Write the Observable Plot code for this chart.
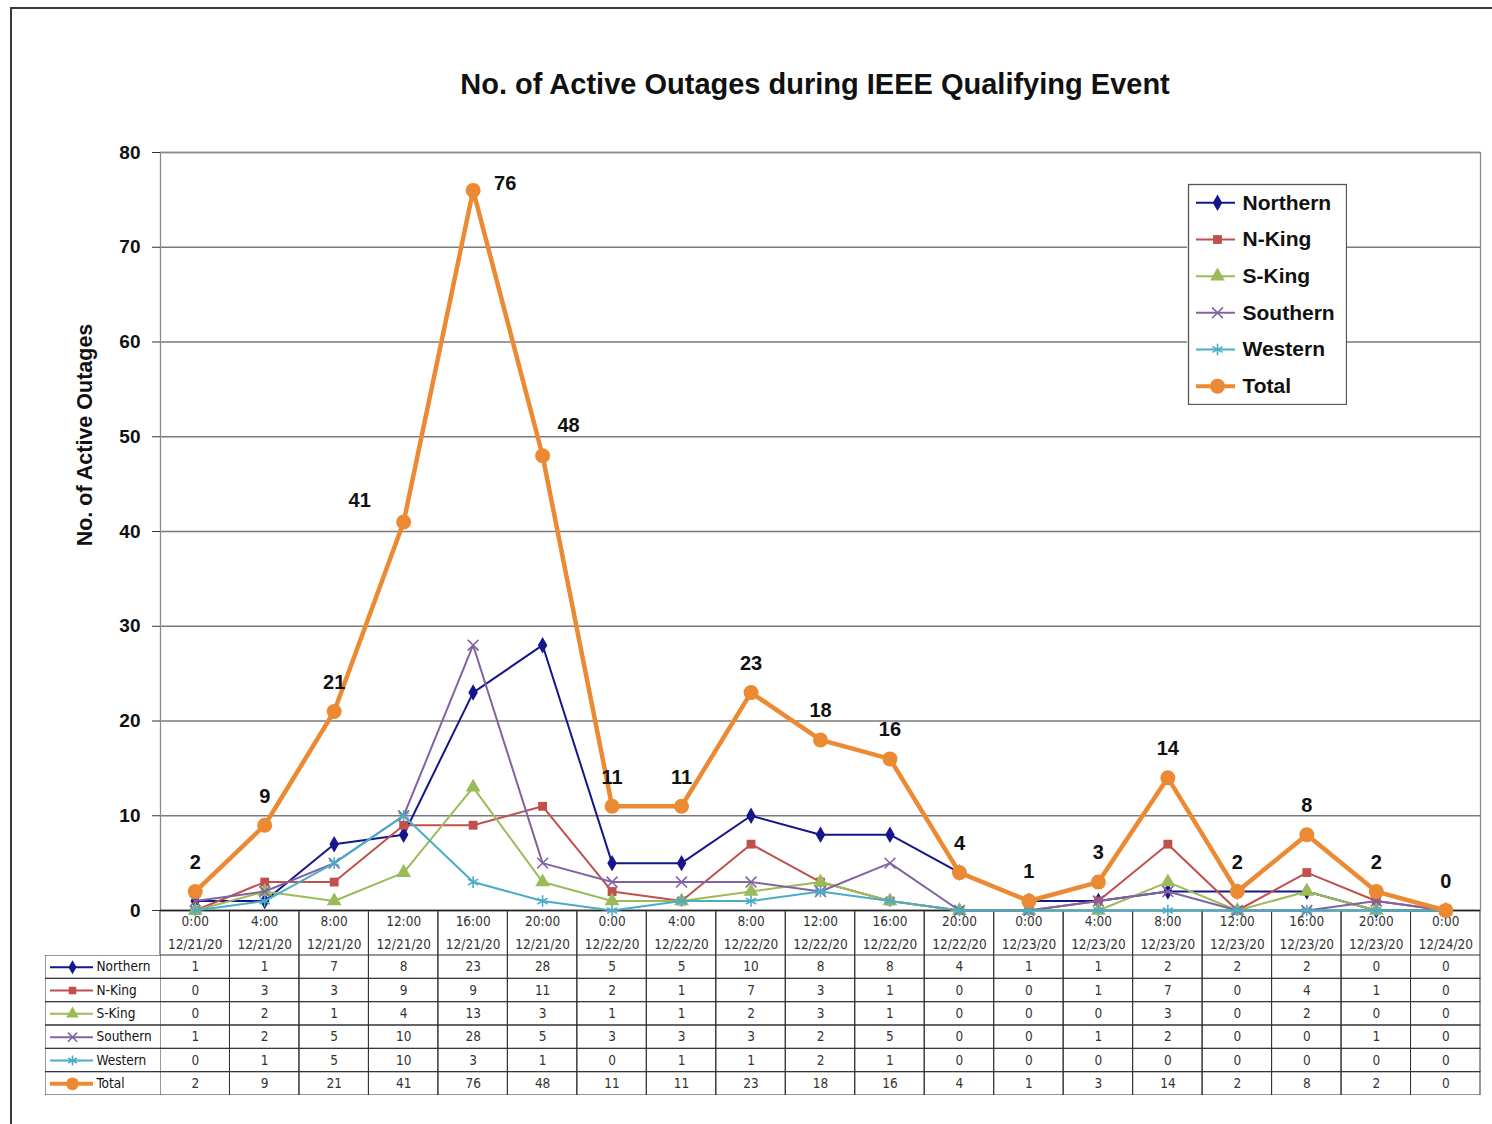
<!DOCTYPE html>
<html><head><meta charset="utf-8">
<script src="https://cdn.jsdelivr.net/npm/d3@7"></script>
<script src="https://cdn.jsdelivr.net/npm/@observablehq/plot@0.6"></script>
<style>
body{margin:0;background:#fff;width:1492px;height:1124px;overflow:hidden;position:relative;font-family:"Liberation Sans",Arial,sans-serif;}
#frameLine{position:absolute;left:10px;top:7px;width:1600px;height:1300px;border-left:2px solid #3a3a3a;border-top:2px solid #3a3a3a;}
#title{position:absolute;left:815px;top:84px;transform:translate(-50%,-50%);font-weight:bold;font-size:29px;white-space:nowrap;color:#111;z-index:20;}
#ylabel{position:absolute;left:85px;top:435px;transform:translate(-50%,-50%) rotate(-90deg);font-weight:bold;font-size:21.5px;white-space:nowrap;color:#111;z-index:20;}
</style></head><body>
<div id="frameLine"></div>
<div id="title">No. of Active Outages during IEEE Qualifying Event</div>
<div id="ylabel">No. of Active Outages</div>
<script>
// ---- data ----
const times = ["0:00","4:00","8:00","12:00","16:00","20:00","0:00","4:00","8:00","12:00","16:00","20:00","0:00","4:00","8:00","12:00","16:00","20:00","0:00"];
const dates = ["12/21/20","12/21/20","12/21/20","12/21/20","12/21/20","12/21/20","12/22/20","12/22/20","12/22/20","12/22/20","12/22/20","12/22/20","12/23/20","12/23/20","12/23/20","12/23/20","12/23/20","12/23/20","12/24/20"];
const seriesNames = ["Northern","N-King","S-King","Southern","Western","Total"];
const northern = [1,1,7,8,23,28,5,5,10,8,8,4,1,1,2,2,2,0,0];
const nKing    = [0,3,3,9,9,11,2,1,7,3,1,0,0,1,7,0,4,1,0];
const sKing    = [0,2,1,4,13,3,1,1,2,3,1,0,0,0,3,0,2,0,0];
const southern = [1,2,5,10,28,5,3,3,3,2,5,0,0,1,2,0,0,1,0];
const western  = [0,1,5,10,3,1,0,1,1,2,1,0,0,0,0,0,0,0,0];
const total    = [2,9,21,41,76,48,11,11,23,18,16,4,1,3,14,2,8,2,0];
const yTicks = [0,10,20,30,40,50,60,70,80];

// ---- derived ----
const cats = times.map((t,i) => t + " " + dates[i]);
const valuesBy = {"Northern":northern,"N-King":nKing,"S-King":sKing,"Southern":southern,"Western":western,"Total":total};
const idx = d3.range(cats.length);
const tableRows = seriesNames.flatMap(s => idx.map(i => ({series:s, cat:cats[i], value:valuesBy[s][i]})));

// ---- styles ----
const styleBy = {
  "Northern":{color:"#16168c", symbol:"diamond", filled:true, r:5, w:2},
  "N-King":{color:"#c0504d", symbol:"square", filled:true, r:5, w:2},
  "S-King":{color:"#9bbb59", symbol:"triangle", filled:true, r:5.5, w:2},
  "Southern":{color:"#8064a2", symbol:"times", filled:false, r:5, w:2},
  "Western":{color:"#4bacc6", symbol:"asterisk", filled:false, r:5.5, w:2},
  "Total":{color:"#ec8a33", symbol:"circle", filled:true, r:7.5, w:4.5}
};
const narrow = '"Liberation Sans Narrow","Arial Narrow","DejaVu Sans Condensed",sans-serif';
const gridStroke = "#333";

function dotOpts(s, extra){
  const st = styleBy[s];
  return Object.assign({symbol: st.symbol, r: st.r,
    fill: st.filled ? st.color : "none",
    stroke: st.filled ? "none" : st.color,
    strokeWidth: st.filled ? 0 : 1.6}, extra);
}

function place(el, left, top, z){
  el.style.position = "absolute";
  el.style.left = left + "px";
  el.style.top = top + "px";
  el.style.zIndex = z;
  document.body.appendChild(el);
}

const xBand = {type:"band", domain:cats, padding:0, round:false, axis:null};

// ---- main chart ----
const chartMarks = [
  Plot.gridY(yTicks, {stroke:"#7a7a7a", strokeOpacity:1, strokeWidth:1.3}),
  Plot.frame({stroke:"#8a8a8a", strokeWidth:1.3}),
  Plot.axisY(yTicks, {tickSize:8, tickPadding:12, fontSize:19, fontWeight:"bold", label:null, tickFormat:d=>d, fill:"#111", stroke:"#333"}),
  Plot.ruleY([0], {stroke:"#222", strokeWidth:1.5})
];
for (const s of seriesNames) {
  const v = valuesBy[s];
  chartMarks.push(Plot.line(idx, {x:i=>cats[i], y:i=>v[i], stroke:styleBy[s].color, strokeWidth:styleBy[s].w}));
  chartMarks.push(Plot.dot(idx, dotOpts(s, {x:i=>cats[i], y:i=>v[i]})));
}
const lab = {x:i=>cats[i], y:i=>total[i], text:i=>String(total[i]), fontSize:20, fontWeight:"bold", fill:"#111"};
chartMarks.push(Plot.text(idx.filter(i => ![76,48,41].includes(total[i])), {...lab, dy:-29}));
chartMarks.push(Plot.text(idx.filter(i => total[i] === 76), {...lab, dx:32, dy:-7}));
chartMarks.push(Plot.text(idx.filter(i => total[i] === 48), {...lab, dx:26, dy:-30}));
chartMarks.push(Plot.text(idx.filter(i => total[i] === 41), {...lab, dx:-44, dy:-21}));

const chart = Plot.plot({
  width:1492, height:922, marginTop:152, marginBottom:12, marginLeft:160, marginRight:12,
  style:{background:"transparent", overflow:"visible", fontFamily:'"Liberation Sans",Arial,sans-serif', color:"#111"},
  x:xBand,
  y:{domain:[0,80], axis:null},
  marks: chartMarks
});

// ---- header row (tick labels) ----
const header = Plot.plot({
  width:1492, height:45, marginTop:0, marginBottom:0, marginLeft:160, marginRight:12,
  style:{background:"transparent", fontFamily:narrow},
  x:xBand,
  marks:[
    Plot.cell(idx, {x:i=>cats[i], stroke:gridStroke, fill:"none", strokeWidth:1}),
    Plot.text(idx, {x:i=>cats[i], text:i=>times[i] + "\n" + dates[i], fontSize:13.5, lineHeight:1.68, dy:-3, fill:"#333"})
  ]
});

// ---- data table ----
const table = Plot.plot({
  width:1492, height:140, marginTop:0, marginBottom:0, marginLeft:160, marginRight:12,
  style:{background:"transparent", fontFamily:narrow},
  x:xBand,
  y:{type:"band", domain:seriesNames, padding:0, round:false, axis:null},
  marks:[
    Plot.cell(tableRows, {x:"cat", y:"series", stroke:gridStroke, fill:"none", strokeWidth:1}),
    Plot.text(tableRows, {x:"cat", y:"series", text:d=>String(d.value), fontSize:13.5, fill:"#333"})
  ]
});

// ---- key builder (table labels + legend) ----
function keyPlot({width, height, margin, lineInsetLeft, lineInsetRight, markerDx, textDx, fontSize, fontWeight, fontFamily, scale, border}){
  const marks = [];
  if (border === "cells") marks.push(Plot.cell(seriesNames, {y:d=>d, stroke:gridStroke, fill:"none", strokeWidth:1}));
  else marks.push(Plot.frame({stroke:"#555", strokeWidth:1.3}));
  for (const s of seriesNames) {
    const st = styleBy[s];
    marks.push(Plot.tickY([s], {y:d=>d, stroke:st.color, strokeWidth:st.w * (s === "Total" ? 0.9 : 1), insetLeft:lineInsetLeft, insetRight:lineInsetRight}));
    const o = dotOpts(s, {y:d=>d, frameAnchor:"left", dx:markerDx});
    o.r = st.r * scale;
    marks.push(Plot.dot([s], o));
  }
  marks.push(Plot.text(seriesNames, {y:d=>d, text:d=>d, frameAnchor:"left", dx:textDx, textAnchor:"start", fontSize, fontWeight, fill:"#111"}));
  return Plot.plot({
    width, height, margin,
    style:{background:"white", fontFamily},
    y:{type:"band", domain:seriesNames, padding:0, round:false, axis:null},
    marks
  });
}

const labels = keyPlot({width:116, height:140, margin:0, lineInsetLeft:5, lineInsetRight:68, markerDx:27, textDx:51,
  fontSize:13.5, fontWeight:"normal", fontFamily:narrow, scale:0.85, border:"cells"});
const legend = keyPlot({width:160, height:222, margin:1, lineInsetLeft:8, lineInsetRight:111, markerDx:29, textDx:54,
  fontSize:21, fontWeight:"bold", fontFamily:'"Liberation Sans",Arial,sans-serif', scale:1, border:"frame"});

place(header, 0, 910, 2);
place(table, 0, 955, 2);
place(labels, 45, 955, 3);
place(chart, 0, 0, 5);
place(legend, 1187, 183, 6);
</script>
</body></html>
